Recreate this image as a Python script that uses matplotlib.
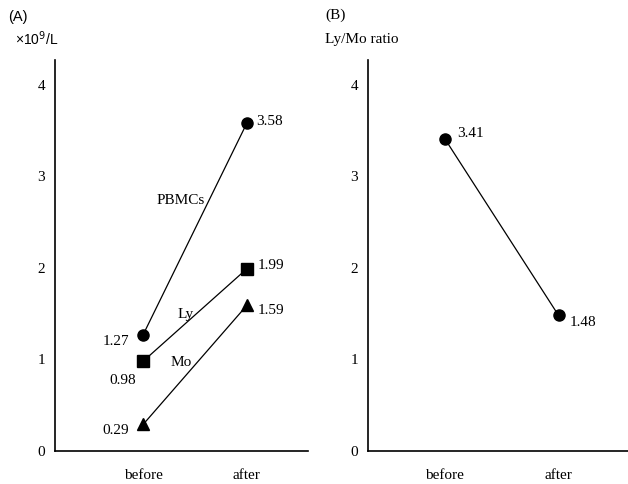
import matplotlib
matplotlib.use("Agg")
import matplotlib.pyplot as plt

# ---- data ----
timepoints = ["before", "after"]
pbmc = [1.27, 3.58]
ly = [0.98, 1.99]
mo = [0.29, 1.59]
ratio = [3.41, 1.48]
y_ticks = [0, 1, 2, 3, 4]

plt.rcParams['font.family'] = ['Liberation Serif', 'DejaVu Serif']
FS = 11

fig = plt.figure(figsize=(6.28, 4.84), dpi=100)
axA = fig.add_axes([55/628, 33/484, (308-55)/628, (451-60)/484])
axB = fig.add_axes([368/628, 33/484, (628-368)/628, (451-60)/484])

xs = list(range(len(timepoints)))

def style(ax, xlim):
    ax.set_xlim(*xlim)
    ax.set_ylim(0, 4.27)
    for s in ['top', 'right']:
        ax.spines[s].set_visible(False)
    ax.spines['left'].set_linewidth(1.2)
    ax.spines['bottom'].set_linewidth(1.2)
    ax.set_yticks(y_ticks)
    ax.set_yticklabels([str(t) for t in y_ticks], fontsize=FS)
    ax.set_xticks(xs)
    ax.set_xticklabels(timepoints, fontsize=FS)
    ax.tick_params(axis='y', length=0, pad=7)
    ax.tick_params(axis='x', length=0, pad=13)

style(axA, (-0.85, 1.59))
style(axB, (-0.675, 1.61))

lw = 0.9
axA.plot(xs, pbmc, color='black', lw=lw, marker='o', ms=8, mfc='black', mec='black', clip_on=False)
axA.plot(xs, ly, color='black', lw=lw, marker='s', ms=8, mfc='black', mec='black', clip_on=False)
axA.plot(xs, mo, color='black', lw=lw, marker='^', ms=8.5, mfc='black', mec='black', clip_on=False)
axB.plot(xs, ratio, color='black', lw=lw, marker='o', ms=8, mfc='black', mec='black', clip_on=False)

def lab(ax, x, y, off, ha):
    ax.annotate(f"{y:.2f}", (x, y), xytext=off, textcoords='offset points',
                ha=ha, va='center', fontsize=FS)

lab(axA, 1, pbmc[1], (7, 1.5), 'left')
lab(axA, 1, ly[1], (7.5, 2.5), 'left')
lab(axA, 1, mo[1], (7.5, -4), 'left')
lab(axA, 0, pbmc[0], (-10, -5), 'right')
lab(axA, 0, ly[0], (-15, -14), 'center')
lab(axA, 0, mo[0], (-10, -4), 'right')
lab(axB, 0, ratio[0], (9, 4), 'left')
lab(axB, 1, ratio[1], (8, -5), 'left')

axA.text(0.36, 2.74, "PBMCs", ha='center', va='center', fontsize=FS)
axA.text(0.41, 1.49, "Ly", ha='center', va='center', fontsize=FS)
axA.text(0.37, 0.97, "Mo", ha='center', va='center', fontsize=FS)

sans = ['Liberation Sans', 'DejaVu Sans']
fig.text(8/628, 1 - 17/484, "(A)", ha='left', va='center', fontsize=10.5, family=sans)
fig.text(15/628, 1 - 39/484, "×10$^9$/L", ha='left', va='center', fontsize=10, family=sans)
fig.text(325/628, 1 - 15/484, "(B)", ha='left', va='center', fontsize=FS)
fig.text(325/628, 1 - 39/484, "Ly/Mo ratio", ha='left', va='center', fontsize=FS)

fig.savefig("out.png", dpi=100)
